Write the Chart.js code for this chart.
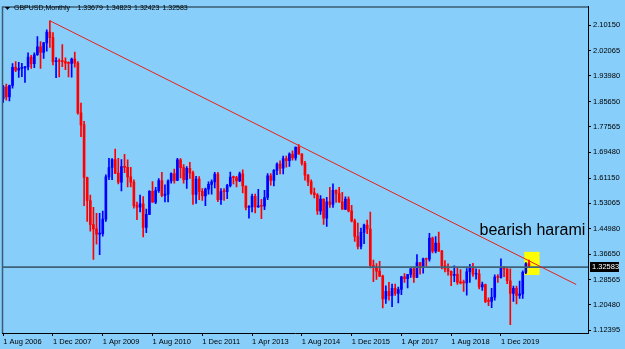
<!DOCTYPE html>
<html>
<head>
<meta charset="utf-8">
<script src="https://cdn.jsdelivr.net/npm/chart.js@4.4.1/dist/chart.umd.min.js"></script>
<style>
  html, body { margin: 0; padding: 0; background: #87cefa; }
  canvas { display: block; }
</style>
</head>
<body>
<canvas id="chart" width="625" height="349"></canvas>
<script>
// ── Data (GBPUSD monthly, Aug 2006 .. Sep 2020) ───────────

const opens = [
  1.8665, 1.9039, 1.8717, 1.9085, 1.9665,
  1.9578, 1.9634, 1.9647, 1.9680, 1.9996, 1.9783, 2.0070, 2.0321, 2.0143, 2.0450, 2.0796, 2.0617,
  1.9845, 1.9887, 1.9855, 1.9848, 1.9800, 1.9791, 1.9935, 1.9802, 1.8206, 1.7822, 1.6133, 1.5394,
  1.4623, 1.4484, 1.4317, 1.4332, 1.4795, 1.6152, 1.6452, 1.6705, 1.6273, 1.5980, 1.6481, 1.6458,
  1.6151, 1.5985, 1.5230, 1.5181, 1.5290, 1.4528, 1.4948, 1.5690, 1.5340, 1.5710, 1.6030, 1.5560,
  1.5600, 1.6020, 1.6260, 1.6040, 1.6700, 1.6450, 1.6060, 1.6430, 1.6280, 1.5590, 1.6080, 1.5690,
  1.5540, 1.5760, 1.5910, 1.5990, 1.6240, 1.5420, 1.5680, 1.5680, 1.5870, 1.6150, 1.6130, 1.6020,
  1.6250, 1.5860, 1.5170, 1.5190, 1.5530, 1.5190, 1.5210, 1.5210, 1.5490, 1.6190, 1.6040, 1.6360,
  1.6560, 1.6430, 1.6740, 1.6670, 1.6880, 1.6760, 1.7105, 1.6880, 1.6590, 1.6210, 1.5990, 1.5640,
  1.5580, 1.5060, 1.5440, 1.4830, 1.5350, 1.5270, 1.5720, 1.5620, 1.5350, 1.5120, 1.5440, 1.5060,
  1.4740, 1.4240, 1.3920, 1.4370, 1.4610, 1.4480, 1.3310, 1.3240, 1.3130, 1.2970, 1.2240, 1.2480,
  1.2340, 1.2580, 1.2410, 1.2540, 1.2950, 1.2890, 1.3020, 1.3200, 1.2930, 1.3400, 1.3280, 1.3520,
  1.3510, 1.4190, 1.3770, 1.4030, 1.3770, 1.3300, 1.3200, 1.3120, 1.2990, 1.3030, 1.2770, 1.2750,
  1.2750, 1.3110, 1.3260, 1.3030, 1.3040, 1.2620, 1.2700, 1.2160, 1.2160, 1.2290, 1.2940, 1.2930,
  1.3250, 1.3200, 1.2820, 1.2410, 1.2580, 1.2350, 1.2400, 1.3090, 1.33679
];
const highs = [
  1.9089, 1.9130, 1.9101, 1.9789, 1.9849,
  1.9830, 1.9792, 1.9695, 2.0134, 2.0050, 2.0134, 2.0656, 2.0490, 2.0465, 2.0868, 2.1161, 2.0782,
  1.9980, 1.9940, 2.0397, 1.9970, 1.9845, 1.9961, 2.0157, 1.9850, 1.8523, 1.7938, 1.6145, 1.5570,
  1.5175, 1.4984, 1.4983, 1.5058, 1.6215, 1.6745, 1.6742, 1.7043, 1.6745, 1.6705, 1.6875, 1.6699,
  1.6458, 1.6060, 1.5341, 1.5570, 1.5520, 1.5120, 1.5710, 1.6000, 1.5820, 1.6100, 1.6300, 1.5900,
  1.6060, 1.6280, 1.6400, 1.6750, 1.6740, 1.6550, 1.6480, 1.6620, 1.6340, 1.6170, 1.6160, 1.5780,
  1.5790, 1.5990, 1.6060, 1.6300, 1.6300, 1.5780, 1.5780, 1.5910, 1.6310, 1.6180, 1.6170, 1.6310,
  1.6380, 1.5860, 1.5230, 1.5600, 1.5600, 1.5750, 1.5430, 1.5720, 1.6260, 1.6260, 1.6390, 1.6600,
  1.6670, 1.6820, 1.6820, 1.6920, 1.6990, 1.7105, 1.7192, 1.6900, 1.6650, 1.6230, 1.6060, 1.5790,
  1.5620, 1.5550, 1.5450, 1.5500, 1.5820, 1.5930, 1.5740, 1.5820, 1.5660, 1.5510, 1.5510, 1.5240,
  1.4800, 1.4670, 1.4510, 1.4640, 1.4770, 1.5020, 1.3480, 1.3370, 1.3440, 1.3000, 1.2660, 1.2770,
  1.2710, 1.2710, 1.2620, 1.2960, 1.3050, 1.3030, 1.3210, 1.3270, 1.3660, 1.3405, 1.3550, 1.3550,
  1.4340, 1.4220, 1.4240, 1.4380, 1.3800, 1.3470, 1.3360, 1.3140, 1.3300, 1.3260, 1.3180, 1.2840,
  1.3210, 1.3350, 1.3380, 1.3200, 1.3180, 1.2780, 1.2710, 1.2270, 1.2580, 1.3010, 1.3020, 1.3520,
  1.3280, 1.3200, 1.3200, 1.2650, 1.2650, 1.2810, 1.3140, 1.3400, 1.34823
];
const lows = [
  1.8539, 1.8617, 1.8590, 1.9000, 1.9525,
  1.9340, 1.9370, 1.9183, 1.9580, 1.9630, 1.9655, 2.0050, 1.9630, 1.9950, 2.0188, 2.0306, 1.9741,
  1.9338, 1.9360, 1.9690, 1.9590, 1.9360, 1.9355, 1.9671, 1.8165, 1.7440, 1.5230, 1.4725, 1.4410,
  1.3503, 1.3990, 1.3655, 1.4250, 1.4720, 1.6060, 1.6065, 1.6255, 1.5925, 1.5706, 1.6284, 1.5834,
  1.5831, 1.5150, 1.4780, 1.5025, 1.4228, 1.4365, 1.4940, 1.5330, 1.5290, 1.5650, 1.5520, 1.5350,
  1.5350, 1.5950, 1.5950, 1.6030, 1.6120, 1.5950, 1.5780, 1.6100, 1.5270, 1.5300, 1.5420, 1.5400,
  1.5230, 1.5600, 1.5600, 1.5800, 1.5360, 1.5270, 1.5400, 1.5450, 1.5830, 1.5930, 1.5830, 1.6000,
  1.5640, 1.5090, 1.4830, 1.5030, 1.5000, 1.5170, 1.4810, 1.5100, 1.5420, 1.5890, 1.5860, 1.6220,
  1.6250, 1.6250, 1.6460, 1.6490, 1.6690, 1.6690, 1.6880, 1.6530, 1.6050, 1.5870, 1.5590, 1.5480,
  1.4950, 1.4950, 1.4630, 1.4560, 1.5170, 1.5170, 1.5330, 1.5330, 1.5110, 1.5100, 1.5030, 1.4710,
  1.4080, 1.3840, 1.3840, 1.4010, 1.4330, 1.3230, 1.2790, 1.2860, 1.2950, 1.1950, 1.2090, 1.2200,
  1.1990, 1.2350, 1.2110, 1.2370, 1.2770, 1.2590, 1.2930, 1.2770, 1.2920, 1.3030, 1.3060, 1.3300,
  1.3450, 1.3710, 1.3710, 1.3760, 1.3200, 1.3100, 1.3000, 1.2660, 1.2790, 1.2700, 1.2720, 1.2480,
  1.2360, 1.2770, 1.2960, 1.2870, 1.2560, 1.2510, 1.2120, 1.2020, 1.1960, 1.2200, 1.2770, 1.2900,
  1.2950, 1.2730, 1.1410, 1.2160, 1.2080, 1.2250, 1.2250, 1.3050, 1.32423
];
const closes = [
  1.9039, 1.8717, 1.9085, 1.9665, 1.9578,
  1.9634, 1.9647, 1.9680, 1.9996, 1.9783, 2.0070, 2.0321, 2.0143, 2.0450, 2.0796, 2.0617, 1.9845,
  1.9887, 1.9855, 1.9848, 1.9800, 1.9791, 1.9935, 1.9802, 1.8206, 1.7822, 1.6133, 1.5394, 1.4623,
  1.4484, 1.4317, 1.4332, 1.4795, 1.6152, 1.6452, 1.6705, 1.6273, 1.5980, 1.6481, 1.6458, 1.6151,
  1.5985, 1.5230, 1.5181, 1.5290, 1.4528, 1.4948, 1.5690, 1.5340, 1.5710, 1.6030, 1.5560, 1.5600,
  1.6020, 1.6260, 1.6040, 1.6700, 1.6450, 1.6060, 1.6430, 1.6280, 1.5590, 1.6080, 1.5690, 1.5540,
  1.5760, 1.5910, 1.5990, 1.6240, 1.5420, 1.5680, 1.5680, 1.5870, 1.6150, 1.6130, 1.6020, 1.6250,
  1.5860, 1.5170, 1.5190, 1.5530, 1.5190, 1.5210, 1.5210, 1.5490, 1.6190, 1.6040, 1.6360, 1.6560,
  1.6430, 1.6740, 1.6670, 1.6880, 1.6760, 1.7105, 1.6880, 1.6590, 1.6210, 1.5990, 1.5640, 1.5580,
  1.5060, 1.5440, 1.4830, 1.5350, 1.5270, 1.5720, 1.5620, 1.5350, 1.5120, 1.5440, 1.5060, 1.4740,
  1.4240, 1.3920, 1.4370, 1.4610, 1.4480, 1.3310, 1.3240, 1.3130, 1.2970, 1.2240, 1.2480, 1.2340,
  1.2580, 1.2410, 1.2540, 1.2950, 1.2890, 1.3020, 1.3200, 1.2930, 1.3400, 1.3280, 1.3520, 1.3510,
  1.4190, 1.3770, 1.4030, 1.3770, 1.3300, 1.3200, 1.3120, 1.2990, 1.3030, 1.2770, 1.2750, 1.2750,
  1.3110, 1.3260, 1.3030, 1.3040, 1.2620, 1.2700, 1.2160, 1.2160, 1.2290, 1.2940, 1.2930, 1.3250,
  1.3200, 1.2820, 1.2410, 1.2580, 1.2350, 1.2400, 1.3090, 1.3370, 1.32583
];

// axis ticks (x in months since Aug 2006)
const xTickIdx = [0, 16, 32, 48, 64, 80, 96, 112, 128, 144, 160];
const xTickLabels = ['1 Aug 2006', '1 Dec 2007', '1 Apr 2009', '1 Aug 2010', '1 Dec 2011', '1 Apr 2013',
                     '1 Aug 2014', '1 Dec 2015', '1 Apr 2017', '1 Aug 2018', '1 Dec 2019'];
const yTickVals = [2.10150, 2.02065, 1.93980, 1.85650, 1.77565, 1.69480, 1.61150,
                   1.53065, 1.44980, 1.36650, 1.28565, 1.20480, 1.12395];

// drawn objects (data units)
const trendIdx = [15, 184.2];
const trendPrice = [2.1161, 1.2700];
const boxIdx = [167.5, 172.4];
const boxPrice = [1.3007, 1.3747];
const noteIdx = 153.1;
const notePrice = 1.428;
const noteText = 'bearish harami';

const X_MIN = -0.386, X_MAX = 187.98;
const Y_MIN = 1.11443, Y_MAX = 2.16180;

const UP = '#0000ff';
const DOWN = '#ff0000';
const BG = '#87cefa';
const TICK_FONT = { family: 'Liberation Sans, Arial, sans-serif', size: 7.5 };

// ── Chart ─────────────────────────────────────────────────

const lastClose = closes[closes.length - 1];
const candleColor = (i) => closes[i] > opens[i] ? UP : DOWN;

const overlay = {
    id: 'overlay',
    beforeDraw(chart) {
        const ctx = chart.ctx;
        ctx.save();
        ctx.fillStyle = BG;
        ctx.fillRect(0, 0, chart.width, chart.height);
        ctx.restore();
    },
    beforeDatasetsDraw(chart) {
        const { ctx, scales: { x, y } } = chart;
        const x0 = x.getPixelForValue(boxIdx[0]), x1 = x.getPixelForValue(boxIdx[1]);
        const y0 = y.getPixelForValue(boxPrice[1]), y1 = y.getPixelForValue(boxPrice[0]);
        ctx.save();
        ctx.fillStyle = '#ffff00';
        ctx.fillRect(x0, y0, x1 - x0, y1 - y0);
        ctx.restore();
    },
    afterDatasetsDraw(chart) {
        const { ctx, scales: { x, y } } = chart;
        ctx.save();
        ctx.fillStyle = '#000';
        ctx.font = '16px "Liberation Sans", Arial, sans-serif';
        ctx.textAlign = 'left';
        ctx.textBaseline = 'alphabetic';
        ctx.fillText(noteText, x.getPixelForValue(noteIdx), y.getPixelForValue(notePrice));
        ctx.restore();
    },
    afterDraw(chart) {
        const { ctx, chartArea: a, scales: { y } } = chart;
        ctx.save();
        // left / top frame
        ctx.strokeStyle = '#3b5d72';
        ctx.lineWidth = 1.5;
        ctx.beginPath();
        ctx.moveTo(a.left + 0.5, a.bottom);
        ctx.lineTo(a.left + 0.5, a.top + 0.5);
        ctx.lineTo(a.right, a.top + 0.5);
        ctx.stroke();

        // current price tag
        const py = y.getPixelForValue(lastClose);
        ctx.fillStyle = '#000';
        ctx.fillRect(a.right + 2, Math.round(py) - 5, 29, 10);
        ctx.fillStyle = '#fff';
        ctx.font = '7.5px "Liberation Sans", Arial, sans-serif';
        ctx.textBaseline = 'middle';
        ctx.fillText(lastClose.toFixed(5), a.right + 4, Math.round(py));

        // title
        ctx.fillStyle = '#000';
        ctx.beginPath();
        ctx.moveTo(5, 7);
        ctx.lineTo(10, 7);
        ctx.lineTo(7.5, 10);
        ctx.closePath();
        ctx.fill();
        ctx.font = '7px "Liberation Sans", Arial, sans-serif';
        ctx.fillText('GBPUSD,Monthly', 14, 8.5);
        const ohlc = [opens, highs, lows, closes].map(arr => arr[arr.length - 1].toFixed(5));
        ohlc.forEach((v, k) => ctx.fillText(v, 77.5 + k * 28.3, 8.5));
        ctx.restore();
    }
};

new Chart(document.getElementById('chart'), {
    type: 'bar',
    data: {
        datasets: [
            {
                type: 'line',
                data: trendIdx.map((v, i) => ({ x: v, y: trendPrice[i] })),
                borderColor: '#e8201a',
                borderWidth: 1,
                pointRadius: 0,
                order: 0
            },
            {
                type: 'line',
                data: [{ x: X_MIN, y: lastClose }, { x: X_MAX, y: lastClose }],
                borderColor: '#3f6277',
                borderWidth: 1.6,
                pointRadius: 0,
                order: 0
            },
            {
                data: opens.map((o, i) => ({ x: i, y: [o, closes[i]] })),
                backgroundColor: (c) => candleColor(c.dataIndex),
                barThickness: 2,
                minBarLength: 1,
                grouped: false,
                order: 1
            },
            {
                data: lows.map((l, i) => ({ x: i, y: [l, highs[i]] })),
                backgroundColor: (c) => candleColor(c.dataIndex),
                barThickness: 1,
                grouped: false,
                order: 2
            }
        ]
    },
    options: {
        responsive: false,
        animation: false,
        devicePixelRatio: 1,
        layout: { padding: { left: 2, top: 3, right: 0, bottom: 0 } },
        plugins: { legend: { display: false }, tooltip: { enabled: false } },
        scales: {
            x: {
                type: 'linear',
                min: X_MIN,
                max: X_MAX,
                offset: false,
                grid: { offset: false, drawOnChartArea: false, drawTicks: true, tickLength: 3, color: '#000' },
                border: { display: true, color: '#000' },
                afterBuildTicks: (axis) => { axis.ticks = xTickIdx.map(v => ({ value: v })); },
                ticks: {
                    autoSkip: false,
                    maxRotation: 0,
                    minRotation: 0,
                    align: 'start',
                    padding: 1,
                    color: '#000',
                    font: TICK_FONT,
                    callback: (v) => xTickLabels[xTickIdx.indexOf(v)]
                },
                afterFit: (s) => { s.height = 16; }
            },
            y: {
                type: 'linear',
                position: 'right',
                min: Y_MIN,
                max: Y_MAX,
                beginAtZero: false,
                grid: { offset: false, drawOnChartArea: false, drawTicks: true, tickLength: 3, color: '#000' },
                border: { display: true, color: '#000' },
                afterBuildTicks: (axis) => { axis.ticks = yTickVals.map(v => ({ value: v })); },
                ticks: {
                    padding: 2,
                    color: '#000',
                    font: TICK_FONT,
                    callback: (v) => v.toFixed(5)
                },
                afterFit: (s) => { s.width = 37; }
            }
        }
    },
    plugins: [overlay]
});
</script>
</body>
</html>
